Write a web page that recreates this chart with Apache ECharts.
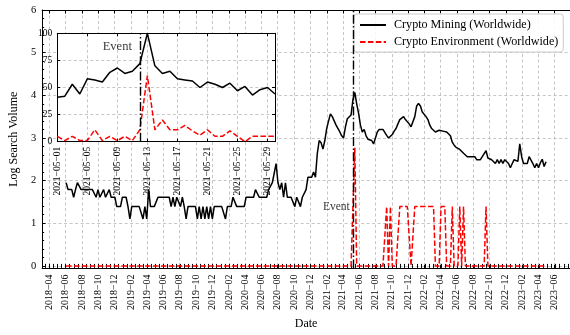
<!DOCTYPE html>
<html><head><meta charset="utf-8">
<script src="https://cdn.jsdelivr.net/npm/echarts@6/dist/echarts.min.js"></script>
<style>html,body{margin:0;padding:0;background:#fff}#c{width:570px;height:335px}</style>
</head><body><div id="c"></div>
<script>
// ---------------- data ----------------
const firstWeek = '2018-06-03';   // weekly Google Trends series
const miningLog = [
1.95,1.79,1.79,1.79,1.61,1.79,1.95,1.95,1.79,1.79,
1.79,1.79,1.79,1.79,1.79,1.79,1.61,1.79,1.61,1.61,
1.79,1.61,1.61,1.79,1.61,1.61,1.61,1.39,1.39,1.39,
1.61,1.61,1.61,1.39,1.10,1.39,1.39,1.39,1.39,1.39,
1.39,1.10,1.39,1.10,1.79,1.39,1.39,1.39,1.39,1.61,
1.61,1.61,1.61,1.61,1.61,1.61,1.39,1.61,1.39,1.61,
1.61,1.39,1.61,1.39,1.10,1.39,1.39,1.39,1.39,1.39,
1.10,1.39,1.10,1.39,1.10,1.39,1.10,1.39,1.10,1.39,
1.39,1.39,1.39,1.39,1.39,1.10,1.39,1.39,1.39,1.61,
1.61,1.39,1.39,1.39,1.39,1.39,1.61,1.61,1.61,1.61,
1.61,1.79,1.79,1.61,1.61,1.61,1.61,1.61,1.79,1.79,
1.95,1.95,2.40,1.95,1.79,1.95,1.61,1.95,1.61,1.61,
1.61,1.61,1.39,1.61,1.61,1.39,1.61,1.61,1.79,2.08,
2.08,2.08,2.20,2.08,2.64,2.94,2.89,2.74,2.94,3.22,
3.40,3.56,3.50,3.40,3.30,3.26,3.14,3.05,3.00,3.26,
3.45,3.45,3.54,3.90,4.07,3.80,3.58,3.30,3.14,3.20,
3.05,2.97,2.97,2.94,2.86,3.00,3.14,3.20,3.23,3.20,
3.20,3.06,3.00,3.00,3.08,3.16,3.22,3.33,3.43,3.45,
3.50,3.43,3.40,3.33,3.26,3.30,3.50,3.75,3.81,3.75,
3.61,3.58,3.50,3.43,3.30,3.22,3.20,3.14,3.10,3.18,
3.21,3.16,3.20,3.14,3.16,3.05,2.90,2.83,2.78,2.80,
2.73,2.70,2.64,2.60,2.56,2.56,2.56,2.53,2.56,2.49,
2.53,2.49,2.56,2.53,2.70,2.53,2.49,2.49,2.49,2.40,
2.49,2.40,2.49,2.40,2.49,2.49,2.40,2.30,2.40,2.49,
2.52,2.45,2.86,2.56,2.40,2.40,2.40,2.56,2.48,2.40,
2.30,2.40,2.30,2.42,2.50,2.33,2.44];
const environmentLog = [
0,0,0,0,0,0,0,0,0,0, 0,0,0,0,0,0,0,0,0,0, 0,0,0,0,0,0,0,0,0,0,
0,0,0,0,0,0,0,0,0,0, 0,0,0,0,0,0,0,0,0,0, 0,0,0,0,0,0,0,0,0,0,
0,0,0,0,0,0,0,0,0,0, 0,0,0,0,0,0,0,0,0,0, 0,0,0,0,0,0,0,0,0,0,
0,0,0,0,0,0,0,0,0,0, 0,0,0,0,0,0,0,0,0,0, 0,0,0,0,0,0,0,0,0,0,
0,0,0,0,0,0,0,0,0,0, 0,0,0,0,0,0,0,0,0,0, 0,0,0,0,0,0,0,0,0,0,
0,0,0,0,2.77,0,0,0,0,0,
0,0,0,0,0,0,0,0,0,0,
0,1.39,0,1.39,0,0,0,0,1.39,1.39,
1.39,1.39,1.39,1.39,0,0,1.39,1.39,1.39,1.39,
1.39,1.39,1.39,1.39,1.39,1.39,1.39,0,0,0,
1.39,1.39,1.39,0,0,0,1.39,0,0,0,
1.39,0,1.39,0,0,0,0,0,0,0,
0,0,0,0,1.39,0,0,0,0,0,
0,0,0,0,0,0,0,0,0,0, 0,0,0,0,0,0,0,0,0,0, 0,0,0,0,0,0,0];

const insetFirstDay = '2021-05-01';  // daily series, May 2021
const insetMining = [41,42,53,44,58,57,55,64,68,63,65,72,100,70,63,65,58,57,56,50,55,53,50,54,47,51,43,48,50,44];
const insetEnvironment = [5,1,5,1,1,11,1,5,1,5,1,11,61,11,20,11,11,15,10,6,11,5,5,10,5,0,5,5,5,5];

const eventDate = '2021-05-12';
const mainTickLabels = ['2018-04','2018-06','2018-08','2018-10','2018-12',
 '2019-02','2019-04','2019-06','2019-08','2019-10','2019-12',
 '2020-02','2020-04','2020-06','2020-08','2020-10','2020-12',
 '2021-02','2021-04','2021-06','2021-08','2021-10','2021-12',
 '2022-02','2022-04','2022-06','2022-08','2022-10','2022-12',
 '2023-02','2023-04','2023-06'];
const insetTickLabels = ['2021-05-01','2021-05-05','2021-05-09','2021-05-13','2021-05-17','2021-05-21','2021-05-25','2021-05-29'];
const yTicks = [0,1,2,3,4,5,6];
const insetYTicks = [0,25,50,75,100];
const seriesNames = ['Crypto Mining (Worldwide)','Crypto Environment (Worldwide)'];

// ---------------- build ----------------
const DAY = 86400000;
function ts(s){ const p=s.split('-').map(Number); return Date.UTC(p[0],p[1]-1,p[2]||1); }
const w0 = ts(firstWeek);
const weekTs = miningLog.map((_,i)=> w0 + i*7*DAY);
const d0 = ts(insetFirstDay);
const dayTs = insetMining.map((_,i)=> d0 + i*DAY);
const evTs = ts(eventDate);
const span = weekTs[weekTs.length-1]-weekTs[0];
const xMin = weekTs[0]-0.05*span, xMax = weekTs[weekTs.length-1]+0.05*span;
const majorX = mainTickLabels.map(ts);
const labelMap = {}; mainTickLabels.forEach(l=>labelMap[ts(l)] = l.replace(/-/g,'\u2212'));
const insetX = insetTickLabels.map(ts);
const insetLabelMap = {}; insetTickLabels.forEach(l=>insetLabelMap[ts(l)] = l.replace(/-/g,'\u2212'));
const minorStep = (majorX[1]-majorX[0])/4;
const minorX = [];
for (let t = majorX[0]; t > xMin; t -= minorStep) minorX.push(t);
for (let t = majorX[0]; t < xMax; t += minorStep) minorX.push(t);
const minorY = []; for (let k=1;k<30;k++){ if(k%5) minorY.push(k/5); }

const FONT = '"Liberation Serif","Times New Roman",serif';
const gridLine = {show:true, lineStyle:{color:'#a0a0a0', width:0.6, type:[3,2.5]}};
const blackAxis = {show:true, onZero:false, lineStyle:{color:'#000', width:1}};
const dashDot = [9,2.4,1.5,2.4];

const option = {
  animation:false,
  backgroundColor:'#fff',
  textStyle:{fontFamily:FONT},
  grid:[
    {left:33, top:10, width:540, height:266.6, containLabel:false},
    {left:57.3, top:33.3, width:217.7, height:108.4, show:true, backgroundColor:'#fff', borderWidth:0, z:5}
  ],
  legend:{
    data:seriesNames, orient:'vertical', left:354, top:14,
    itemWidth:26, itemHeight:10, itemGap:5,
    padding:[5,5,4,5],
    itemStyle:{color:'rgba(0,0,0,0)', borderWidth:0, opacity:0},
    backgroundColor:'rgba(255,255,255,0.85)', borderColor:'#cccccc', borderWidth:1, borderRadius:3,
    textStyle:{fontFamily:FONT, fontSize:12.1, color:'#000', padding:[0,0,0,3]}
  },
  xAxis:[
    {gridIndex:0, type:'value', min:xMin, max:xMax, position:'bottom',
     axisLine:blackAxis,
     axisTick:{show:true, inside:true, length:3.5, customValues:majorX, lineStyle:{color:'#000'}},
     axisLabel:{show:true, customValues:majorX, rotate:90, margin:6, fontSize:10, fontFamily:FONT, color:'#000',
       formatter:v=>labelMap[v]||''},
     splitLine:gridLine,
     name:'Date', nameLocation:'middle', nameGap:47, nameTextStyle:{fontFamily:FONT, fontSize:12, color:'#000'}},
    {gridIndex:0, type:'value', min:xMin, max:xMax, position:'top',
     axisLine:blackAxis,
     axisTick:{show:true, inside:true, length:3.5, customValues:majorX, lineStyle:{color:'#000'}},
     axisLabel:{show:false}, splitLine:{show:false}},
    {gridIndex:0, type:'value', min:xMin, max:xMax, position:'bottom',
     axisLine:{show:false},
     axisTick:{show:true, inside:true, length:2, customValues:minorX, lineStyle:{color:'#000'}},
     axisLabel:{show:false}, splitLine:{show:false}},
    {gridIndex:0, type:'value', min:xMin, max:xMax, position:'top',
     axisLine:{show:false},
     axisTick:{show:true, inside:true, length:2, customValues:minorX, lineStyle:{color:'#000'}},
     axisLabel:{show:false}, splitLine:{show:false}},
    {gridIndex:1, type:'value', min:dayTs[0], max:dayTs[dayTs.length-1], position:'bottom', z:6,
     axisLine:blackAxis,
     axisTick:{show:true, inside:true, length:3, customValues:insetX, lineStyle:{color:'#000'}},
     axisLabel:{show:true, customValues:insetX, rotate:90, margin:5, fontSize:9.5, fontFamily:FONT, color:'#000',
       formatter:v=>insetLabelMap[v]||''},
     splitLine:gridLine},
    {gridIndex:1, type:'value', min:dayTs[0], max:dayTs[dayTs.length-1], position:'top', z:6,
     axisLine:blackAxis,
     axisTick:{show:true, inside:true, length:3, customValues:insetX, lineStyle:{color:'#000'}},
     axisLabel:{show:false}, splitLine:{show:false}}
  ],
  yAxis:[
    {gridIndex:0, type:'value', min:-0.06, max:6, position:'left',
     axisLine:blackAxis,
     axisTick:{show:true, inside:true, length:3.5, customValues:yTicks, lineStyle:{color:'#000'}},
     axisLabel:{show:true, customValues:yTicks, margin:6, fontSize:10.5, fontFamily:FONT, color:'#000'},
     splitLine:gridLine,
     name:'Log Search Volume', nameLocation:'middle', nameGap:17, nameRotate:90,
     nameTextStyle:{fontFamily:FONT, fontSize:12, color:'#000'}},
    {gridIndex:0, type:'value', min:-0.06, max:6, position:'left',
     axisLine:{show:false},
     axisTick:{show:true, inside:true, length:2, customValues:minorY, lineStyle:{color:'#000'}},
     axisLabel:{show:false}, splitLine:{show:false}},
    {gridIndex:1, type:'value', min:0, max:100, interval:25, position:'left', z:6,
     axisLine:blackAxis,
     axisTick:{show:true, inside:true, length:3, lineStyle:{color:'#000'}},
     axisLabel:{show:true, margin:5, fontSize:9.5, fontFamily:FONT, color:'#000'},
     splitLine:gridLine},
    {gridIndex:1, type:'value', min:0, max:100, interval:25, position:'right', z:6,
     axisLine:blackAxis,
     axisTick:{show:true, inside:true, length:3, lineStyle:{color:'#000'}},
     axisLabel:{show:false}, splitLine:{show:false}}
  ],
  series:[
    {name:seriesNames[0], type:'line', xAxisIndex:0, yAxisIndex:0, symbol:'none', showSymbol:false,
     data:weekTs.map((t,i)=>[t, miningLog[i]]), z:3,
     lineStyle:{color:'#000', width:1.5}, itemStyle:{color:'#000'},
     markLine:{silent:true, symbol:'none', label:{show:false},
       lineStyle:{color:'#000', width:1.4, type:dashDot}, data:[{xAxis:evTs}]}},
    {name:seriesNames[1], type:'line', xAxisIndex:0, yAxisIndex:0, symbol:'none', showSymbol:false,
     data:weekTs.map((t,i)=>[t, environmentLog[i]]), z:2,
     lineStyle:{color:'#ff0000', width:1.5, type:[5.5,2.4]}, itemStyle:{color:'#ff0000'}},
    {name:'insetMining', type:'line', xAxisIndex:4, yAxisIndex:2, symbol:'none', showSymbol:false, z:8,
     data:dayTs.map((t,i)=>[t, insetMining[i]]),
     lineStyle:{color:'#000', width:1.5},
     markLine:{silent:true, symbol:'none', label:{show:false}, z:8,
       lineStyle:{color:'#000', width:1.4, type:dashDot}, data:[{xAxis:evTs}]}},
    {name:'insetEnvironment', type:'line', xAxisIndex:4, yAxisIndex:2, symbol:'none', showSymbol:false, z:7,
     data:dayTs.map((t,i)=>[t, insetEnvironment[i]]),
     lineStyle:{color:'#ff0000', width:1.5, type:[5.5,2.4]}},
    {name:'eventMain', type:'scatter', xAxisIndex:0, yAxisIndex:0, symbolSize:0, z:9, silent:true,
     data:[[evTs, 1.37]],
     label:{show:true, position:'left', distance:4, formatter:'Event', fontFamily:FONT, fontSize:11.5, color:'#000'}},
    {name:'eventInset', type:'scatter', xAxisIndex:4, yAxisIndex:2, symbolSize:0, z:9, silent:true,
     data:[[evTs, 88]],
     label:{show:true, position:'left', distance:8, formatter:'Event', fontFamily:FONT, fontSize:12.5, color:'#000'}}
  ]
};
const chart = echarts.init(document.getElementById('c'), null, {renderer:'canvas'});
chart.setOption(option);
</script></body></html>
